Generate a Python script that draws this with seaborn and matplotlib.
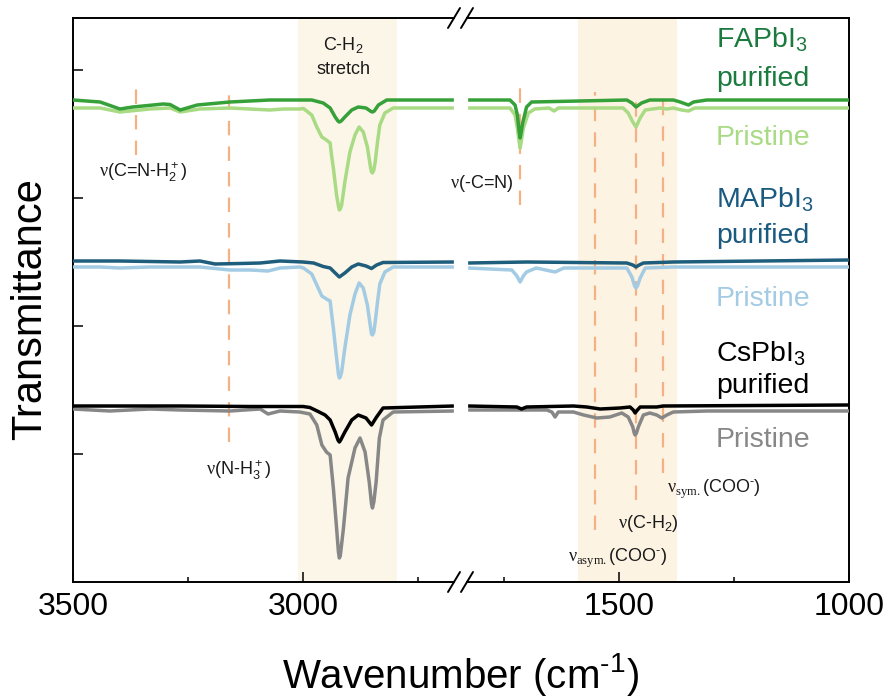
import matplotlib
matplotlib.use("Agg")
import matplotlib.pyplot as plt
from matplotlib.lines import Line2D
import seaborn as sns

# ---------------- data ----------------
# transmittance in arbitrary units (offset stacked); wavenumber in cm-1
# FAPbI3 purified
fa_pur_l_wn = [3500, 3441, 3398, 3370, 3304, 3289, 3267, 3230, 3159, 3072, 2981, 2956, 2941, 2930, 2924,
               2921, 2917, 2909, 2894, 2880, 2863, 2852, 2849, 2845, 2836, 2818, 2672]
fa_pur_l_t = [482, 480, 473, 475, 478, 477.5, 472, 477, 480, 482, 482, 479, 474, 465, 461,
              460, 461, 465, 472, 475, 474, 470.5, 470, 471, 477, 482, 482]
fa_pur_r_wn = [1828, 1737, 1726, 1721, 1717, 1715, 1713, 1709, 1701, 1690, 1483, 1472, 1463, 1451, 1433,
               1382, 1367, 1349, 1338, 1309, 1000]
fa_pur_r_t = [482, 482, 477, 467, 450, 444, 449, 460, 475, 480, 482, 479, 475, 479, 482,
              482, 480, 477, 480, 482, 482]
# FAPbI3 pristine
fa_pri_l_wn = [3500, 3441, 3398, 3333, 3289, 3267, 3224, 3159, 3072, 3043, 3007, 2999, 2981, 2970, 2959,
               2949, 2941, 2938, 2934, 2927, 2923, 2921, 2919, 2916, 2909, 2898, 2887, 2878, 2869, 2860,
               2853, 2851, 2849, 2846, 2843, 2838, 2833, 2822, 2804, 2672]
fa_pri_l_t = [474, 474, 470, 473, 474, 470, 473, 474, 472, 473, 473, 473.5, 467, 455, 445,
              442, 439, 427, 414, 387, 376, 372, 373, 377, 400, 430, 447, 455, 450, 435,
              414, 410, 409, 412, 420, 440, 457, 469, 474, 474]
fa_pri_r_wn = [1828, 1737, 1726, 1721, 1717, 1715, 1713, 1708, 1697, 1683, 1652, 1641, 1632, 1491, 1480,
               1470, 1463, 1454, 1443, 1411, 1396, 1382, 1364, 1349, 1335, 1000]
fa_pri_r_t = [474, 474, 467, 454, 440, 434, 439, 454, 469, 473, 474, 471, 474, 474, 469,
              460, 455, 464, 472, 474, 473, 474, 472, 471, 474, 474]
# MAPbI3 purified
ma_pur_l_wn = [3500, 3398, 3267, 3224, 3191, 3137, 3093, 3050, 3000, 2977, 2956, 2941, 2930, 2921, 2909,
               2894, 2880, 2863, 2851, 2840, 2826, 2672]
ma_pur_l_t = [321, 321, 320, 321, 318, 318.5, 319, 321, 320, 319, 315.5, 314, 309, 305, 309,
              315, 318, 316, 313.5, 317, 319.5, 320]
ma_pur_r_wn = [1828, 1700, 1483, 1470, 1463, 1456, 1447, 1382, 1000]
ma_pur_r_t = [319, 320, 319, 317, 315, 317, 319, 320, 322]
# MAPbI3 pristine
ma_pri_l_wn = [3500, 3441, 3398, 3333, 3289, 3224, 3159, 3115, 3076, 3050, 3007, 2999, 2981, 2970, 2959,
               2949, 2941, 2938, 2934, 2927, 2923, 2921, 2919, 2916, 2909, 2898, 2887, 2878, 2869, 2860,
               2853, 2851, 2849, 2846, 2843, 2838, 2833, 2822, 2804, 2672]
ma_pri_l_t = [315, 315, 314, 315, 315, 315, 312, 312, 311, 314, 315, 314, 308, 297, 286,
              283, 281, 269, 254, 224, 208, 204, 205, 210, 234, 267, 288, 299, 294, 277,
              254, 248, 247, 250, 260, 280, 298, 310, 315, 315]
ma_pri_r_wn = [1828, 1733, 1722, 1715, 1708, 1701, 1680, 1639, 1620, 1483, 1472, 1466, 1463, 1460, 1454,
               1443, 1382, 1000]
ma_pri_r_t = [314, 312, 306, 300, 306, 310, 314, 310, 314, 314, 305, 296, 294, 296, 304,
              314, 315, 315]
# CsPbI3 purified
cs_pur_l_wn = [3500, 3267, 3115, 3000, 2985, 2967, 2952, 2941, 2930, 2924, 2921, 2918, 2909, 2894, 2880,
               2863, 2851, 2840, 2826, 2672]
cs_pur_l_t = [176, 176, 175.5, 175.5, 174.5, 170.5, 167, 162, 150, 142, 140, 142, 150, 162, 167,
              164, 157, 165, 174, 176]
cs_pur_r_wn = [1828, 1722, 1712, 1701, 1599, 1570, 1541, 1498, 1476, 1469, 1465, 1460, 1454, 1418, 1404,
               1000]
cs_pur_r_t = [176, 175, 173, 175, 176, 175, 173, 174, 175, 172, 169, 172, 175, 175, 176,
              177]
# CsPbI3 pristine
cs_pri_l_wn = [3500, 3420, 3333, 3267, 3159, 3093, 3076, 3050, 3007, 2985, 2970, 2959, 2949, 2941, 2934,
               2927, 2923, 2921, 2919, 2912, 2902, 2887, 2876, 2865, 2856, 2851, 2849, 2846, 2841, 2834,
               2826, 2804, 2672]
cs_pri_l_t = [173, 171, 173, 172, 171, 173, 168, 171, 170, 168, 157, 137, 130, 127, 94,
              54, 30, 24, 26, 54, 104, 134, 144, 130, 100, 78, 74, 80, 100, 144,
              162, 170, 171]
cs_pri_r_wn = [1828, 1657, 1646, 1639, 1632, 1599, 1577, 1548, 1520, 1494, 1480, 1470, 1467, 1465, 1462,
               1458, 1447, 1433, 1418, 1407, 1396, 1382, 1309, 1000]
cs_pri_r_t = [172, 172, 170, 165, 170, 170, 167, 164, 165, 169, 165, 155, 149, 147, 149,
              155, 167, 169, 167, 164, 167, 170, 171, 171]

# sample labels and their baselines
sample_labels = ["FAPbI$_3$", "purified", "Pristine", "MAPbI$_3$", "purified", "Pristine",
                 "CsPbI$_3$", "purified", "Pristine"]
sample_label_y = [535, 496, 437, 375, 339, 276, 220, 189, 135]

# peak-assignment dashed lines: wavenumber, top, bottom
dash_left_wn = [3363, 3161]
dash_left_top = [499, 495]
dash_left_bot = [427, 140]
dash_right_wn = [1715, 1552, 1463, 1404]
dash_right_top = [504, 490, 490, 490]
dash_right_bot = [377, 52, 82, 109]

# shaded bands
band_left = (3010, 2795)
band_right = (1590, 1375)

# ---------------- styling ----------------
sns.set_theme(style="white")
plt.rcParams["font.family"] = ["Liberation Sans", "DejaVu Sans"]
plt.rcParams["mathtext.fontset"] = "custom"
plt.rcParams["mathtext.rm"] = "Liberation Sans"
plt.rcParams["mathtext.it"] = "Liberation Sans:italic"
plt.rcParams["mathtext.bf"] = "Liberation Sans:bold"
plt.rcParams["mathtext.sf"] = "Liberation Serif"
plt.rcParams["mathtext.default"] = "regular"
for k in ("text.color", "axes.labelcolor", "xtick.color", "ytick.color"):
    plt.rcParams[k] = "black"

c_fa_pur, c_fa_pur_txt, c_fa_pri = "#36A039", "#1B7A3E", "#A8DB84"
c_ma_pur, c_ma_pur_txt, c_ma_pri = "#1E5D7B", "#1B5A80", "#A3CBE3"
c_cs_pur, c_cs_pri = "#000000", "#878787"
c_dash = "#F4B183"
label_colors = [c_fa_pur_txt, c_fa_pur_txt, c_fa_pri, c_ma_pur_txt, c_ma_pur_txt, c_ma_pri,
                "#000000", "#000000", c_cs_pri]

W, H = 891, 698
fig = plt.figure(figsize=(W / 100, H / 100), dpi=100)
L, R, T, B, MID = 73, 849, 18, 582, 461
ax1 = fig.add_axes([L / W, 1 - B / H, (MID - L) / W, (B - T) / H])
ax2 = fig.add_axes([MID / W, 1 - B / H, (R - MID) / W, (B - T) / H])

lw = 2.5
series = [
    (fa_pri_l_wn, fa_pri_l_t, fa_pri_r_wn, fa_pri_r_t, c_fa_pri),
    (fa_pur_l_wn, fa_pur_l_t, fa_pur_r_wn, fa_pur_r_t, c_fa_pur),
    (ma_pri_l_wn, ma_pri_l_t, ma_pri_r_wn, ma_pri_r_t, c_ma_pri),
    (ma_pur_l_wn, ma_pur_l_t, ma_pur_r_wn, ma_pur_r_t, c_ma_pur),
    (cs_pri_l_wn, cs_pri_l_t, cs_pri_r_wn, cs_pri_r_t, c_cs_pri),
    (cs_pur_l_wn, cs_pur_l_t, cs_pur_r_wn, cs_pur_r_t, c_cs_pur),
]
for i, (lx, ly, rx, ry, col) in enumerate(series):
    sns.lineplot(x=lx, y=ly, ax=ax1, color=col, lw=lw, sort=False, estimator=None, zorder=3 + i)
    sns.lineplot(x=rx, y=ry, ax=ax2, color=col, lw=lw, sort=False, estimator=None, zorder=3 + i)
for ax in (ax1, ax2):
    for ln in ax.get_lines():
        ln.set_solid_joinstyle("round")
        ln.set_solid_capstyle("butt")

ax1.axvspan(*band_left, color="#FBF6E8", lw=0, zorder=0)
ax2.axvspan(*band_right, color="#FDF3E3", lw=0, zorder=0)

dash_style = (0, (6.5, 5))
for x, y0, y1 in zip(dash_left_wn, dash_left_bot, dash_left_top):
    ax1.plot([x, x], [y0, y1], color=c_dash, lw=1.6, ls=dash_style, zorder=1)
for x, y0, y1 in zip(dash_right_wn, dash_right_bot, dash_right_top):
    ax2.plot([x, x], [y0, y1], color=c_dash, lw=1.6, ls=dash_style, zorder=1)

for ax in (ax1, ax2):
    ax.set_ylim(0, 564)
    ax.grid(False)
    ax.set_facecolor("white")
    for s in ax.spines.values():
        s.set_linewidth(1.4)
        s.set_color("black")
    ax.tick_params(axis="x", which="major", direction="in", length=7, width=1.1, labelsize=23, pad=7,
                   colors="black", bottom=True, top=False)
    ax.tick_params(axis="x", which="minor", direction="in", length=3.6, width=1.1, bottom=True, top=False)
    ax.set_xlabel("")
    ax.set_ylabel("")

ax1.set_xlim(3500, 2656.5)
ax2.set_xlim(1843.5, 1000)
ax1.set_xticks([3500, 3000])
ax1.set_xticks([3250, 2750], minor=True)
ax2.set_xticks([1500, 1000])
ax2.set_xticks([1750, 1250], minor=True)
ax1.set_yticks([128, 256, 384, 512])
ax1.tick_params(axis="y", direction="in", length=7, width=1.1, left=True, labelleft=False)
ax2.set_yticks([])
ax1.spines["right"].set_visible(False)
ax2.spines["left"].set_visible(False)
ax1.spines["top"].set_bounds(3500, 2672)
ax1.spines["bottom"].set_bounds(3500, 2672)
ax2.spines["top"].set_bounds(1830, 1000)
ax2.spines["bottom"].set_bounds(1830, 1000)

# break marks
for yb in (T, B):
    for cx in (454, 467):
        fig.add_artist(Line2D([(cx - 6) / W, (cx + 6) / W], [1 - (yb + 10) / H, 1 - (yb - 10) / H],
                              color="black", lw=1.4, transform=fig.transFigure))

# annotations
ann = dict(fontsize=13, color="#1a1a1a", va="baseline")
ax1.text(2913, 532, "C-H$_2$", ha="center", **ann)
ax1.text(2913, 508, "stretch", ha="center", **ann)
ax1.text(3348, 405, r"$\mathsf{ν}$(C=N-H$_2^+$)", ha="center", **ann)
ax1.text(3141, 107, r"$\mathsf{ν}$(N-H$_3^+$)", ha="center", **ann)
ax2.text(1730, 394, r"$\mathsf{ν}$(-C=N)", ha="right", **ann)
ax2.text(1396, 89, r"$\mathsf{ν}_{\mathsf{sym.}}$(COO$^{\text{-}}$)", ha="left", **ann)
ax2.text(1502, 54, r"$\mathsf{ν}$(C-H$_2$)", ha="left", **ann)
ax2.text(1611, 20, r"$\mathsf{ν}_{\mathsf{asym.}}$(COO$^{\text{-}}$)", ha="left", **ann)

for txt, yv, col in zip(sample_labels, sample_label_y, label_colors):
    ax2.text(1289, yv, txt, color=col, fontsize=20.5, ha="left", va="baseline")

fig.text(461 / W, 1 - 688 / H, r"Wavenumber (cm$^{\text{-1}}$)", ha="center", va="baseline",
         fontsize=29, color="black")
fig.text(30.5 / W, 1 - 309 / H, "Transmittance", ha="center", va="center", rotation=90, fontsize=30,
         color="black")

fig.savefig("out.png", dpi=100, facecolor="white")
